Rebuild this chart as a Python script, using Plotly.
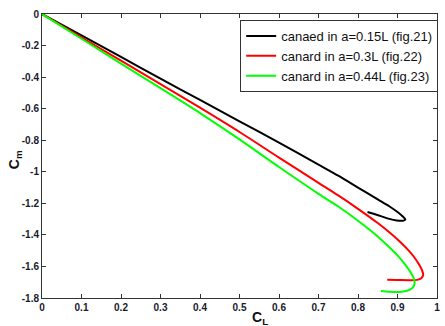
import plotly.graph_objects as go

# Data
black_x = [0, 0.1, 0.2, 0.3, 0.4, 0.5, 0.6, 0.7, 0.75, 0.8, 0.85, 0.88, 0.90, 0.912, 0.920, 0.914, 0.898, 0.877, 0.849, 0.824]
black_y = [0, -0.136, -0.272, -0.41, -0.545, -0.68, -0.815, -0.955, -1.025, -1.10, -1.175, -1.22, -1.255, -1.28, -1.303, -1.31, -1.309, -1.297, -1.274, -1.255]

red_x = [0, 0.1, 0.2, 0.3, 0.4, 0.5, 0.6, 0.7, 0.75, 0.8, 0.85, 0.88, 0.905, 0.925, 0.942, 0.955, 0.963, 0.965, 0.96, 0.95, 0.93, 0.90, 0.874]
red_y = [0, -0.148, -0.296, -0.444, -0.594, -0.748, -0.91, -1.07, -1.15, -1.235, -1.325, -1.385, -1.44, -1.49, -1.54, -1.59, -1.63, -1.655, -1.675, -1.685, -1.687, -1.686, -1.685]

green_x = [0, 0.1, 0.2, 0.3, 0.4, 0.5, 0.6, 0.7, 0.75, 0.8, 0.85, 0.88, 0.90, 0.92, 0.935, 0.943, 0.941, 0.93, 0.91, 0.88, 0.858]
green_y = [0, -0.157, -0.314, -0.47, -0.628, -0.795, -0.97, -1.14, -1.22, -1.31, -1.41, -1.48, -1.53, -1.59, -1.645, -1.69, -1.725, -1.748, -1.76, -1.76, -1.755]

names = ["canaed in a=0.15L (fig.21)", "canard in a=0.3L (fig.22)", "canard in a=0.44L (fig.23)"]
colors = ["#000000", "#ff0000", "#00ff00"]

x_ticks = [0, 0.1, 0.2, 0.3, 0.4, 0.5, 0.6, 0.7, 0.8, 0.9, 1]
x_labels = ["0", "0.1", "0.2", "0.3", "0.4", "0.5", "0.6", "0.7", "0.8", "0.9", "1"]
y_ticks = [0, -0.2, -0.4, -0.6, -0.8, -1, -1.2, -1.4, -1.6, -1.8]
y_labels = ["0", "-0.2", "-0.4", "-0.6", "-0.8", "-1", "-1.2", "-1.4", "-1.6", "-1.8"]

FONT = "Liberation Sans, Arial, sans-serif"

fig = go.Figure()
for xs, ys, n, c in zip([black_x, red_x, green_x], [black_y, red_y, green_y], names, colors):
    fig.add_trace(go.Scatter(x=xs, y=ys, mode="lines", name=n,
                             line=dict(color=c, width=2, shape="spline", smoothing=0.8)))

axis_common = dict(showgrid=False, zeroline=False, showline=True, linecolor="#333333", linewidth=1,
                   mirror="allticks", ticks="inside", ticklen=4, tickcolor="#333333",
                   tickfont=dict(family=FONT, size=10, color="#1a1a2e", weight="bold"))

fig.update_layout(
    width=445, height=326,
    margin=dict(l=42, r=5, t=14, b=28),
    paper_bgcolor="white", plot_bgcolor="white",
    xaxis=dict(range=[0, 1], tickvals=x_ticks, ticktext=x_labels, **axis_common),
    yaxis=dict(range=[-1.8, 0], tickvals=y_ticks, ticktext=y_labels, **axis_common),
    legend=dict(x=1.003, y=0.979, xanchor="right", yanchor="top", bgcolor="white",
                bordercolor="#333333", borderwidth=1,
                font=dict(family=FONT, size=13, color="#111111"),
                itemwidth=30, tracegroupgap=0),
    showlegend=True,
)

pw = 445 - 42 - 5
ph = 326 - 14 - 28

mx = (15 - 42) / pw
my = (326 - 28 - 160) / ph

fig.add_annotation(text="<b>C<sub>L</sub></b>", x=(262 - 42) / pw, y=0, xref="paper", yref="paper",
                   showarrow=False, xanchor="center", yanchor="top", yshift=-9,
                   font=dict(family=FONT, size=14, color="#111111"))
fig.add_annotation(text="<b>C<sub>m</sub></b>", x=mx, y=my, xref="paper", yref="paper", showarrow=False,
                   xanchor="center", yanchor="middle", textangle=-90,
                   font=dict(family=FONT, size=14, color="#111111"))

fig.write_html("out.html")
